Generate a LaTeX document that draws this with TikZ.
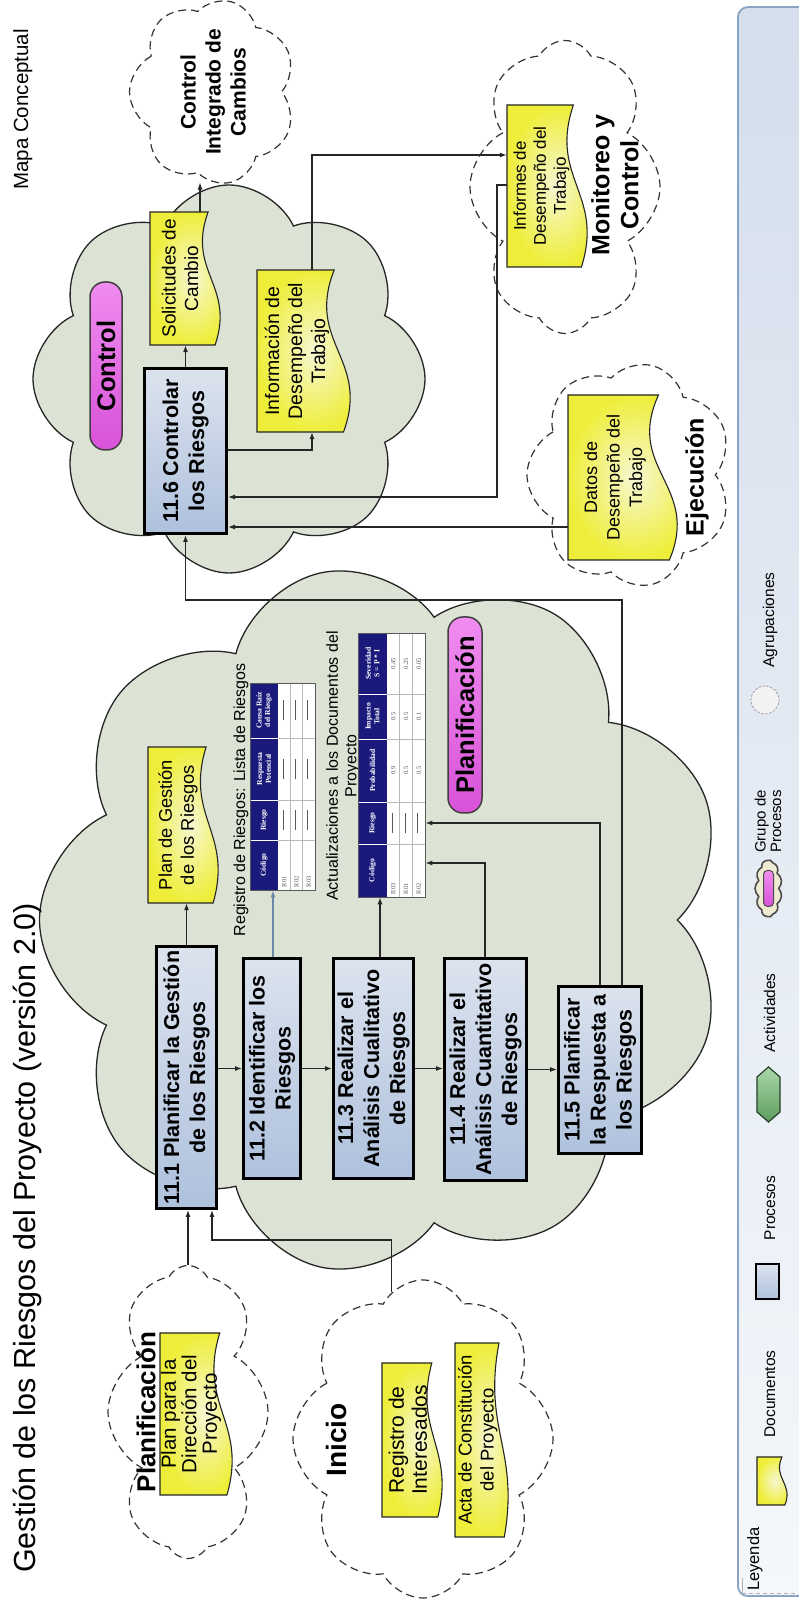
\documentclass[tikz,border=0pt]{standalone}
\usepackage{fontspec}
\setmainfont{Liberation Sans}
\newfontfamily\tabfont{Liberation Serif}
\usetikzlibrary{shapes.symbols,arrows.meta,calc}

\definecolor{cloudfill}{HTML}{DCE3D4}
\definecolor{procTop}{HTML}{DCE3EE}
\definecolor{procBot}{HTML}{AEC1DD}
\definecolor{docY}{HTML}{EEEE3A}
\definecolor{docLight}{HTML}{F7F7D2}
\definecolor{pillA}{HTML}{F08CF0}
\definecolor{pillB}{HTML}{D852D8}
\definecolor{navy}{HTML}{1A1A7C}
\definecolor{lineblue}{HTML}{6A88AA}
\definecolor{legBorder}{HTML}{8AA4C6}
\definecolor{legTop}{HTML}{D4DEEC}
\definecolor{legBot}{HTML}{F4F7FB}
\definecolor{actA}{HTML}{5E9E5E}
\definecolor{actB}{HTML}{A9D6A9}
\definecolor{grpCream}{HTML}{EFEBD2}

\newcommand\celldash{\rule[2pt]{20pt}{0.9pt}}
% document symbol: rectangle with a wavy lower edge
% #1 name, #2 left, #3 distance from top, #4 width, #5 height, #6 font size, #7 line skip, #8 text
\newcommand\docnode[8]{%
  \path[docfill] (#2,-#3) -- ({#2+#4},-#3) -- ({#2+#4},{-#3-0.83*#5})
    .. controls ({#2+0.55*#4},{-#3-0.52*#5}) and ({#2+0.45*#4},{-#3-1.22*#5}) .. (#2,{-#3-0.93*#5}) -- cycle;
  \node[doctext, font=\fontsize{#6}{#7}\selectfont, minimum width=#4, minimum height={0.86*#5}]
    (#1) at ({#2+0.5*#4},{-#3-0.43*#5}) {#8};
}

\tikzset{
  proc/.style={draw=black, line width=3pt, top color=procTop, bottom color=procBot, align=center,
    inner sep=0pt, font=\fontsize{21.5}{26}\selectfont\bfseries},
  doctext/.style={align=center, inner sep=0pt},
  docfill/.style={draw=black!85, line width=1.1pt, inner color=docLight, outer color=docY},
  grpfill/.style={cloud, cloud puffs=#1, cloud puff arc=130, cloud ignores aspect, fill=cloudfill, inner sep=0pt},
  grpline/.style={cloud, cloud puffs=#1, cloud puff arc=130, cloud ignores aspect, draw=black!85,
    line width=1.3pt, inner sep=0pt},
  dgrp/.style={cloud, cloud puffs=#1, cloud puff arc=125, cloud ignores aspect, draw=black!80,
    line width=1.2pt, dash pattern=on 8pt off 5pt, inner sep=0pt, align=center},
  pill/.style={draw=black!75, line width=1.5pt, rounded corners=15pt, top color=pillA, bottom color=pillB,
    inner sep=0pt, font=\fontsize{25.5}{30}\selectfont\bfseries},
  head/.style={align=center, inner sep=0pt},
  arr/.style={draw=black!85, line width=1.1pt, -{Latex[length=7pt,width=5pt]}},
  th/.style={text=white, font=\tabfont\bfseries\fontsize{7.6}{8.6}\selectfont, align=center, inner sep=0pt},
  td/.style={text=black!65, font=\tabfont\fontsize{6.5}{7}\selectfont, inner sep=0pt},
  lg/.style={font=\fontsize{15.5}{16}\selectfont, inner sep=0pt},
  legbox/.style={draw=legBorder, line width=1.8pt, rounded corners=10pt, top color=legTop,
    bottom color=legBot, inner sep=0pt},
}

\begin{document}
\begin{tikzpicture}[x=1pt, y=1pt, rotate=90, transform shape]
\useasboundingbox (0,0) rectangle (1602,-798);
\fill[white] (0,0) rectangle (1602,-798);

% ---------- legend strip ----------
\node[legbox, anchor=north west, minimum width=1589, minimum height=85] (legend) at (5,-737) {};

% ---------- process groups ----------
\node[grpfill=9, minimum width=706, minimum height=687] (gplan) at (682,-383) {};
\node[grpfill=8, minimum width=388, minimum height=392] (gctl) at (1223,-229) {};
\node[grpline=9, minimum width=706, minimum height=687] (gplanO) at (682,-383) {};
\node[grpline=8, minimum width=388, minimum height=392] (gctlO) at (1223,-229) {};

\node[dgrp=7, minimum width=170, minimum height=167, font=\fontsize{21}{25}\selectfont\bfseries]
  (cic) at (1510,-213) {Control\\Integrado de\\Cambios};
\node[dgrp=8, minimum width=293, minimum height=190] (gmon) at (1415,-565) {};
\node[dgrp=7, minimum width=224, minimum height=206] (gejec) at (1127,-630) {};
\node[dgrp=8, minimum width=293, minimum height=160] (gpdir) at (190,-188) {};
\node[dgrp=8, minimum width=318, minimum height=260] (gini) at (163,-423) {};

% ---------- titles ----------
\node[anchor=base west, inner sep=0pt, font=\fontsize{30.5}{36}\selectfont] (title) at (29,-35)
  {Gestión de los Riesgos del Proyecto (versión 2.0)};
\node[anchor=base west, inner sep=0pt, font=\fontsize{20.5}{24}\selectfont] (mapa) at (1412,-28)
  {Mapa Conceptual};

% ---------- group headings ----------
\node[pill, minimum width=168, minimum height=32] (pctl) at (1236,-106) {Control};
\node[pill, minimum width=196, minimum height=34] (ppla) at (887,-465) {Planificación};
\node[head, font=\fontsize{26}{30}\selectfont\bfseries] (hpdir) at (190,-146) {Planificación};
\node[head, font=\fontsize{28}{32}\selectfont\bfseries] (hini) at (162,-336) {Inicio};
\node[head, font=\fontsize{25}{29}\selectfont\bfseries] (hejec) at (1125,-697) {Ejecución};

% ---------- processes ----------
\node[proc, minimum width=262, minimum height=60] (p111) at (524.5,-186.5) {11.1 Planificar la Gestión\\de los Riesgos};
\node[proc, minimum width=220, minimum height=57] (p112) at (533.5,-272) {11.2 Identificar los\\Riesgos};
\node[proc, minimum width=220, minimum height=80] (p113) at (533.5,-373.5) {11.3 Realizar el\\Análisis Cualitativo\\de Riesgos};
\node[proc, minimum width=222, minimum height=82] (p114) at (532.5,-485.5) {11.4 Realizar el\\Análisis Cuantitativo\\de Riesgos};
\node[proc, minimum width=167, minimum height=83] (p115) at (532,-600) {11.5 Planificar\\la Respuesta a\\los Riesgos};
\node[proc, minimum width=165, minimum height=82] (p116) at (1151,-185.5) {11.6 Controlar\\los Riesgos};

% ---------- documents ----------
\docnode{plan}{699}{148}{156}{70}{18.3}{22}{Plan de Gestión\\de los Riesgos}
\docnode{solic}{1257}{150}{133}{70}{19}{22.5}{Solicitudes de\\Cambio}
\docnode{info}{1170}{257}{162}{93}{19.5}{23}{Información de\\Desempeño del\\Trabajo}
\docnode{informes}{1335}{507}{162}{80}{17}{20}{Informes de\\Desempeño del\\Trabajo}
\docnode{datos}{1042}{568}{165}{109}{18}{22.5}{Datos de\\Desempeño del\\Trabajo}
\docnode{pdir}{107}{160}{162}{72}{20.5}{20.5}{Plan para la\\Dirección del\\Proyecto}
\docnode{regint}{85}{382}{154}{60}{21}{23}{Registro de\\Interesados}
\docnode{acta}{65}{455}{194}{53}{18.5}{22}{Acta de Constitución\\del Proyecto}

\node[head, font=\fontsize{25}{29}\selectfont\bfseries] (hmon) at (1417,-615) {Monitoreo y\\Control};

% ---------- risk register ----------
\node[inner sep=0pt, font=\fontsize{16}{19}\selectfont] (lab1) at (802,-241) {Registro de Riesgos: Lista de Riesgos};
\fill[white] (712,-250) rectangle (919,-315);
\fill[navy] (712,-250) rectangle (919,-278);
\foreach \xx in {762,802,864} {
  \draw[white, line width=0.5pt] (\xx,-250) -- (\xx,-278);
  \draw[gray!55, line width=0.5pt] (\xx,-278) -- (\xx,-315);
}
\foreach \yy in {290.3,302.7} \draw[gray!55, line width=0.5pt] (712,-\yy) -- (919,-\yy);
\node[draw=gray!70!black, line width=0.8pt, minimum width=207, minimum height=65, inner sep=0pt] (tab1) at (815.5,-282.5) {};
\node[th] (t1h1) at (737,-264) {Código};
\node[th] (t1h2) at (782,-264) {Riesgo};
\node[th] (t1h3) at (833,-264) {Respuesta\\Potencial};
\node[th] (t1h4) at (891.5,-264) {Causa Raíz\\del Riesgo};
\foreach \r/\yy in {1/284.2,2/296.5,3/308.8} {
  \node[td, anchor=west] (t1r\r) at (714.5,-\yy) {R0\r};
  \foreach \c/\xx in {2/782,3/833,4/891.5} \node[td] (t1r\r c\c) at (\xx,-\yy) {\celldash};
}

% ---------- updated project documents ----------
\node[inner sep=0pt, align=center, font=\fontsize{16}{18.5}\selectfont] (lab2) at (836,-343)
  {Actualizaciones a los Documentos del\\Proyecto};
\fill[white] (705,-358) rectangle (969,-425);
\fill[navy] (705,-358) rectangle (969,-387);
\foreach \xx in {758,800,863,908} {
  \draw[white, line width=0.5pt] (\xx,-358) -- (\xx,-387);
  \draw[gray!55, line width=0.5pt] (\xx,-387) -- (\xx,-425);
}
\foreach \yy in {399.7,412.3} \draw[gray!55, line width=0.5pt] (705,-\yy) -- (969,-\yy);
\node[draw=gray!70!black, line width=0.8pt, minimum width=264, minimum height=67, inner sep=0pt] (tab2) at (837,-391.5) {};
\node[th] (t2h1) at (731.5,-372.5) {Código};
\node[th] (t2h2) at (779,-372.5) {Riesgo};
\node[th] (t2h3) at (831.5,-372.5) {Probabilidad};
\node[th] (t2h4) at (885.5,-372.5) {Impacto\\Total};
\node[th] (t2h5) at (938.5,-372.5) {Severidad\\S = P * I};
\foreach \r/\code/\pp/\ii/\ss/\yy in {1/R03/0.9/0.5/0.45/393.3, 2/R01/0.5/0.5/0.25/406, 3/R02/0.5/0.1/0.05/418.7} {
  \node[td, anchor=west] (t2r\r) at (707.5,-\yy) {\code};
  \node[td] (t2r\r c2) at (779,-\yy) {\celldash};
  \node[td] (t2r\r c3) at (831.5,-\yy) {\pp};
  \node[td] (t2r\r c4) at (885.5,-\yy) {\ii};
  \node[td] (t2r\r c5) at (938.5,-\yy) {\ss};
}

% ---------- connectors ----------
\draw[arr] (p112.north |- p111.south) -- (p112.north);
\draw[arr] (p112.south) -- (p112.south |- p113.north);
\draw[arr] (p113.south) -- (p113.south |- p114.north);
\draw[arr] (p114.south) -- (p114.south |- p115.north);
\draw[arr] (p111.east) -- (plan.west |- p111.east);
\draw[arr, draw=lineblue] (p112.east |- 0,-273) -- (tab1.west |- 0,-273);
\draw[arr] (p113.east |- 0,-380) -- (tab2.west |- 0,-380);
\draw[arr] (p114.east |- 0,-485) -- (739,-485) -- (739,0 |- tab2.south);
\draw[arr] (p115.east) -- (779,0 |- p115.east) -- (779,0 |- tab2.south);
\draw[arr] (p115.east |- 0,-622) -- (1002,-622) -- (1002,0 |- p116.west) -- (p116.west);
\draw[arr] (p116.east) -- (solic.west |- p116.east);
\draw[arr] (solic.east |- 0,-200) -- (cic.west |- 0,-200);
\draw[arr] (1152,0 |- p116.south) -- (1152,-312) -- (info.west |- 0,-312);
\draw[arr] (info.east |- 0,-312) -- (1447,-312) -- (1447,0 |- informes.north);
\draw[arr] (1417,0 |- informes.north) -- (1417,-497) -- (1105,-497) -- (1105,0 |- p116.south);
\draw[arr] (1075,0 |- datos.north) -- (1075,0 |- p116.south);
\draw[arr] (gpdir.east) -- (p111.west |- gpdir.east);
\draw[arr] (gini.12) -- (362,0 |- gini.12) -- (362,-212) -- (p111.west |- 0,-212);

% ---------- legend entries ----------
\node[anchor=base west, inner sep=0pt, font=\fontsize{16.5}{18}\selectfont] (leyenda) at (11,-759) {Leyenda};
\draw[gray!60, line width=0.8pt] (24,-742) -- (9,-742);
\draw[gray!60, line width=0.8pt, dash pattern=on 4pt off 3pt] (9,-742) -- (9,-798);
\docnode{legdoc}{97}{757}{48}{30}{10}{12}{}
\node[lg, anchor=base] (ldoc) at (208,-775) {Documentos};
\node[proc, line width=2.5pt, minimum width=35, minimum height=23] (lproc) at (320.5,-767.5) {};
\node[lg, anchor=base] (lproct) at (394,-775) {Procesos};
\path[draw=black!60!actA, line width=1.2pt, top color=actB, bottom color=actA]
  (480,-768.5) -- (490,-757) -- (525,-757) -- (535,-768.5) -- (525,-780) -- (490,-780) -- cycle;
\node[lg, anchor=base] (lact) at (589,-775) {Actividades};
\node[cloud, cloud puffs=11, cloud puff arc=100, cloud ignores aspect, draw=black!70, line width=1.6pt,
  fill=grpCream, minimum width=57, minimum height=27, inner sep=0pt] (lgrp) at (713.5,-768.5) {};
\node[draw=black!70, line width=1pt, rounded corners=4pt, top color=pillA, bottom color=pillB,
  minimum width=36, minimum height=10, inner sep=0pt] (lgrpp) at (713.5,-768.5) {};
\node[lg, anchor=west, align=left, font=\fontsize{15}{15.5}\selectfont] (lgrpt) at (749,-768) {Grupo de\\Procesos};
\node[circle, draw=gray!75, line width=0.8pt, dash pattern=on 2.5pt off 1.5pt, fill=gray!10, minimum size=28, inner sep=0pt] (lagr) at (902,-765) {};
\node[lg, anchor=base] (lagrt) at (982,-774) {Agrupaciones};
\end{tikzpicture}
\end{document}
